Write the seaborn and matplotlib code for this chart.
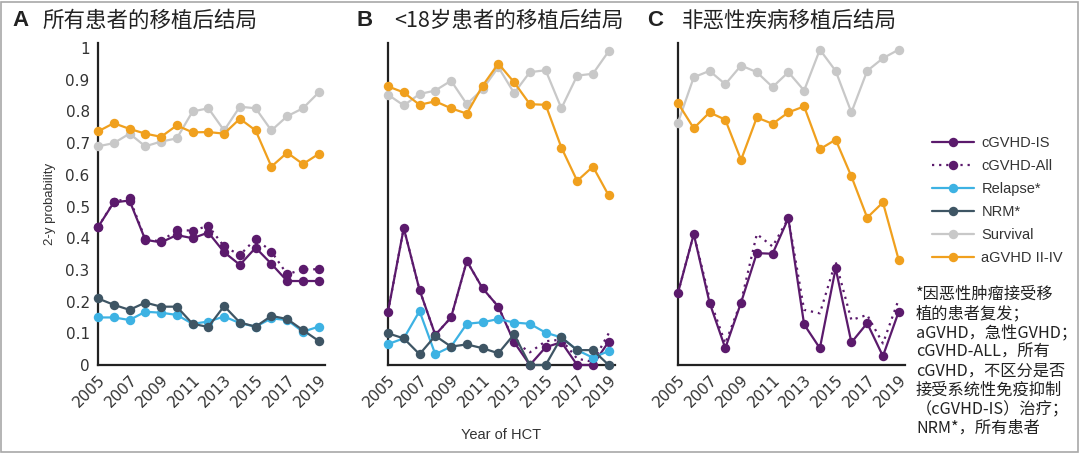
import numpy as np
import pandas as pd
import matplotlib
matplotlib.use("Agg")
import matplotlib.pyplot as plt
import seaborn as sns
from matplotlib.lines import Line2D
from matplotlib.patches import Rectangle

# ==========================================
# Data
# ==========================================

years = list(range(2005, 2020))
year_labels = [str(y) if (y - 2005) % 2 == 0 else "" for y in years]
y_ticks = [0, 0.1, 0.2, 0.3, 0.4, 0.5, 0.6, 0.7, 0.8, 0.9, 1.0]
y_tick_labels = ["0", "0.1", "0.2", "0.3", "0.4", "0.5", "0.6", "0.7", "0.8", "0.9", "1"]

# A: all patients
a_survival = [0.69, 0.70, 0.73, 0.69, 0.705, 0.715, 0.80, 0.81, 0.74, 0.815, 0.81, 0.74, 0.785, 0.81, 0.86]
a_agvhd = [0.737, 0.763, 0.745, 0.73, 0.72, 0.756, 0.734, 0.735, 0.73, 0.777, 0.74, 0.626, 0.67, 0.634, 0.666]
a_cgvhd_all = [0.435, 0.515, 0.526, 0.397, 0.39, 0.426, 0.424, 0.439, 0.374, 0.347, 0.398, 0.358, 0.286, 0.302, 0.302]
a_cgvhd_is = [0.435, 0.513, 0.519, 0.395, 0.387, 0.41, 0.40, 0.418, 0.356, 0.316, 0.37, 0.319, 0.265, 0.265, 0.265]
a_relapse = [0.15, 0.15, 0.142, 0.168, 0.165, 0.158, 0.13, 0.137, 0.153, 0.132, 0.121, 0.147, 0.142, 0.105, 0.121]
a_nrm = [0.21, 0.19, 0.174, 0.197, 0.184, 0.184, 0.13, 0.12, 0.186, 0.134, 0.121, 0.155, 0.145, 0.11, 0.076]

# B: <18 years
b_survival = [0.853, 0.819, 0.855, 0.866, 0.897, 0.823, 0.87, 0.94, 0.858, 0.924, 0.93, 0.81, 0.913, 0.919, 0.99]
b_agvhd = [0.879, 0.86, 0.821, 0.832, 0.81, 0.793, 0.881, 0.951, 0.892, 0.823, 0.821, 0.686, 0.581, 0.626, 0.535]
b_cgvhd_all = [0.168, 0.432, 0.237, 0.095, 0.15, 0.328, 0.242, 0.184, 0.075, 0.04, 0.075, 0.08, 0.02, 0.01, 0.10]
b_cgvhd_is = [0.168, 0.432, 0.237, 0.095, 0.15, 0.328, 0.242, 0.184, 0.072, 0.0, 0.056, 0.072, 0.0, 0.0, 0.074]
b_relapse = [0.066, 0.084, 0.17, 0.034, 0.058, 0.13, 0.135, 0.145, 0.134, 0.13, 0.102, 0.087, 0.047, 0.023, 0.044]
b_nrm = [0.1, 0.084, 0.034, 0.092, 0.058, 0.065, 0.053, 0.037, 0.097, 0.0, 0.0, 0.087, 0.047, 0.047, 0.0]

# C: non-malignant disease
c_survival = [0.765, 0.908, 0.928, 0.886, 0.945, 0.924, 0.877, 0.924, 0.866, 0.995, 0.928, 0.797, 0.928, 0.968, 0.995]
c_agvhd = [0.826, 0.747, 0.797, 0.774, 0.647, 0.781, 0.761, 0.797, 0.816, 0.681, 0.711, 0.595, 0.465, 0.513, 0.332]
c_cgvhd_all = [0.228, 0.413, 0.21, 0.068, 0.2, 0.413, 0.374, 0.463, 0.174, 0.163, 0.326, 0.142, 0.158, 0.068, 0.207]
c_cgvhd_is = [0.228, 0.413, 0.197, 0.053, 0.197, 0.353, 0.351, 0.463, 0.128, 0.053, 0.305, 0.071, 0.132, 0.028, 0.168]

series_names = ["cGVHD-IS", "cGVHD-All", "Relapse*", "NRM*", "Survival", "aGVHD II-IV"]
colors = {
    "cGVHD-IS": "#5b1a6c",
    "cGVHD-All": "#5b1a6c",
    "Relapse*": "#3db2e3",
    "NRM*": "#3e5564",
    "Survival": "#c8c8c8",
    "aGVHD II-IV": "#f0a01e",
}
styles = {name: "-" for name in series_names}
styles["cGVHD-All"] = (0, (1, 2.2))

# (name, values, show markers)
panel_a = [("Survival", a_survival, True), ("aGVHD II-IV", a_agvhd, True),
           ("cGVHD-All", a_cgvhd_all, True), ("cGVHD-IS", a_cgvhd_is, True),
           ("Relapse*", a_relapse, True), ("NRM*", a_nrm, True)]
panel_b = [("Survival", b_survival, True), ("aGVHD II-IV", b_agvhd, True),
           ("cGVHD-All", b_cgvhd_all, False), ("cGVHD-IS", b_cgvhd_is, True),
           ("Relapse*", b_relapse, True), ("NRM*", b_nrm, True)]
panel_c = [("Survival", c_survival, True), ("aGVHD II-IV", c_agvhd, True),
           ("cGVHD-All", c_cgvhd_all, False), ("cGVHD-IS", c_cgvhd_is, True)]

# ==========================================
# Figure
# ==========================================

sns.set_theme(style="white")
plt.rcParams["font.family"] = ["Liberation Sans", "Noto Sans CJK SC", "DejaVu Sans"]

W, H = 1080, 454
fig = plt.figure(figsize=(W / 100, H / 100), dpi=100)
fig.patch.set_facecolor("white")
fig.patches.append(Rectangle((0.001, 0.005), 0.997, 0.99, transform=fig.transFigure,
                             fill=False, edgecolor="#a8a8a8", linewidth=1.2))

ax_top, ax_bottom, ax_w = 43, 365, 227


def make_axes(left_px):
    return fig.add_axes([left_px / W, 1 - ax_bottom / H, ax_w / W, (ax_bottom - ax_top) / H])


def draw_panel(ax, panel):
    for z, (name, vals, dots) in enumerate(panel):
        sns.lineplot(x=years, y=vals, ax=ax, color=colors[name], linestyle=styles[name],
                     linewidth=1.6, marker="o" if dots else None, markersize=6.8,
                     markeredgewidth=0, clip_on=False, zorder=3 + z)
    ax.set_xlim(2005, 2019.4)
    ax.set_ylim(0, 1.016)
    ax.set_xticks(years)
    ax.set_xticklabels(year_labels, family=["DejaVu Sans"])
    ax.tick_params(axis="x", length=4, width=1.3, color="#222222", direction="out",
                   labelsize=11, labelcolor="#333333", rotation=45, pad=1)
    for lbl in ax.get_xticklabels():
        lbl.set_ha("right")
        lbl.set_rotation_mode("anchor")
    sns.despine(ax=ax)
    for side in ["left", "bottom"]:
        ax.spines[side].set_color("#222222")
        ax.spines[side].set_linewidth(1.6)
    ax.set_facecolor("white")
    ax.grid(False)


ax_a = make_axes(98)
draw_panel(ax_a, panel_a)
ax_a.set_yticks(y_ticks)
ax_a.set_yticklabels(y_tick_labels, family=["DejaVu Sans"])
ax_a.tick_params(axis="y", length=4, width=1.3, color="#222222", direction="out",
                 labelsize=11, labelcolor="#333333", pad=2)
ax_a.set_ylabel("2-y probability", fontsize=9.5, color="#333333", labelpad=7,
                family=["Liberation Sans Narrow", "Liberation Sans"])

ax_b = make_axes(388)
draw_panel(ax_b, panel_b)
ax_b.set_yticks([])
ax_b.set_xlabel("Year of HCT", fontsize=10.5, color="#333333", labelpad=13,
                family=["Liberation Sans Narrow", "Liberation Sans"])

ax_c = make_axes(678)
draw_panel(ax_c, panel_c)
ax_c.set_yticks([])

# ==========================================
# Panel titles
# ==========================================

title_y = 1 - 21 / H
titles = [(12, 42, "A", "所有患者的移植后结局"),
          (357, 394, "B", "<18岁患者的移植后结局"),
          (647, 682, "C", "非恶性疾病移植后结局")]
for lx, tx, letter, text in titles:
    fig.text(lx / W, title_y, letter, fontsize=16, fontweight="bold", color="#222222",
             va="center", ha="left", family=["Liberation Sans"])
    fig.text(tx / W, title_y, text, fontsize=15.5, color="#222222", va="center", ha="left",
             family=["Noto Sans CJK SC", "DejaVu Sans"])

# ==========================================
# Legend
# ==========================================

handles = [Line2D([0], [0], color=colors[n], linestyle=styles[n], linewidth=1.6,
                  marker="o", markersize=6.8, markeredgewidth=0) for n in series_names]
fig.legend(handles, series_names, loc="upper left", bbox_to_anchor=(926 / W, 1 - 130 / H),
           frameon=False, fontsize=10.5, handlelength=2.9, handletextpad=0.5,
           labelspacing=0.62, borderaxespad=0, labelcolor="#333333")

# ==========================================
# Footnote
# ==========================================

footnote = ("*因恶性肿瘤接受移\n"
            "植的患者复发；\n"
            "aGVHD，急性GVHD；\n"
            "cGVHD-ALL，所有\n"
            "cGVHD，不区分是否\n"
            "接受系统性免疫抑制\n"
            "（cGVHD-IS）治疗；\n"
            "NRM*，所有患者")
fig.text(916 / W, 1 - 286 / H, footnote, fontsize=11.7, color="#222222", va="top", ha="left",
         linespacing=1.16, family=["Noto Sans CJK SC", "DejaVu Sans"])

plt.savefig("out.png", dpi=100)
